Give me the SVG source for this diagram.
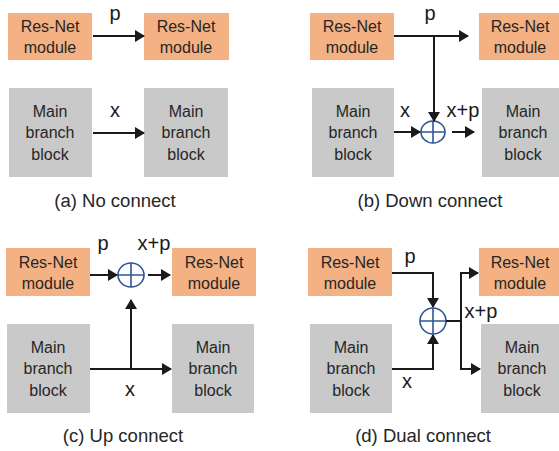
<svg xmlns="http://www.w3.org/2000/svg" width="559" height="451" viewBox="0 0 559 451">
  <style>
    .res { fill: #f4b183; }
    .main { fill: #c9c9c9; }
    .lbl { font-family: "Liberation Sans", Arial, sans-serif; font-size: 16px; fill: #262626; text-anchor: middle; }
    .var { font-family: "Liberation Sans", Arial, sans-serif; font-size: 20px; fill: #1a1a1a; text-anchor: middle; }
    .cap { font-family: "Liberation Sans", Arial, sans-serif; font-size: 18.5px; fill: #262626; text-anchor: middle; }
    .ln { fill: none; stroke: #1a1a1a; stroke-width: 2; }
    .arr { fill: none; stroke: #1a1a1a; stroke-width: 2; marker-end: url(#head); }
    .add { fill: #ffffff; stroke: #2f5597; stroke-width: 1.6; }
    .cross { stroke: #2f5597; stroke-width: 1.6; }
  </style>
  <defs>
    <marker id="head" viewBox="0 0 10 12" refX="9" refY="6" markerWidth="10" markerHeight="12" markerUnits="userSpaceOnUse" orient="auto">
      <path d="M0,0 L10,6 L0,12 Z" fill="#1a1a1a"/>
    </marker>
  </defs>

  <!-- (a) No connect -->
  <g id="a-res1"><rect class="res" x="8" y="13" width="84" height="47"/><text class="lbl" x="50" y="32">Res-Net</text><text class="lbl" x="50" y="53">module</text></g>
  <g id="a-res2"><rect class="res" x="144" y="13" width="85" height="47"/><text class="lbl" x="186" y="32">Res-Net</text><text class="lbl" x="186" y="53">module</text></g>
  <g id="a-main1"><rect class="main" x="9" y="88" width="83" height="89"/><text class="lbl" x="50" y="117">Main</text><text class="lbl" x="50" y="138">branch</text><text class="lbl" x="50" y="160">block</text></g>
  <g id="a-main2"><rect class="main" x="144" y="88" width="84" height="89"/><text class="lbl" x="186" y="117">Main</text><text class="lbl" x="186" y="138">branch</text><text class="lbl" x="186" y="160">block</text></g>
  <g id="a-edges">
    <path class="arr" d="M93,36 H144"/>
    <path class="arr" d="M93,133 H144"/>
    <text class="var" x="115" y="20">p</text>
    <text class="var" x="115" y="117">x</text>
  </g>
  <text class="cap" x="115" y="207">(a) No connect</text>

  <!-- (b) Down connect -->
  <g id="b-res1"><rect class="res" x="310" y="13" width="84" height="47"/><text class="lbl" x="352" y="32">Res-Net</text><text class="lbl" x="352" y="53">module</text></g>
  <g id="b-res2"><rect class="res" x="479" y="13" width="80" height="47"/><text class="lbl" x="520" y="32">Res-Net</text><text class="lbl" x="520" y="53">module</text></g>
  <g id="b-main1"><rect class="main" x="312" y="88" width="82" height="89"/><text class="lbl" x="353" y="117">Main</text><text class="lbl" x="353" y="138">branch</text><text class="lbl" x="353" y="160">block</text></g>
  <g id="b-main2"><rect class="main" x="482" y="88" width="77" height="89"/><text class="lbl" x="523" y="117">Main</text><text class="lbl" x="523" y="138">branch</text><text class="lbl" x="523" y="160">block</text></g>
  <g id="b-add"><ellipse class="add" cx="433" cy="132" rx="12" ry="11"/><path class="cross" d="M421,132 H445 M433,121 V143"/></g>
  <g id="b-edges">
    <path class="arr" d="M394,36 H468"/>
    <path class="arr" d="M434,36 V121"/>
    <path class="arr" d="M394,132 H420"/>
    <path class="arr" d="M452,132 H474"/>
    <text class="var" x="430" y="20">p</text>
    <text class="var" x="405" y="117">x</text>
    <text class="var" x="463" y="117">x+p</text>
  </g>
  <text class="cap" x="430" y="207">(b) Down connect</text>

  <!-- (c) Up connect -->
  <g id="c-res1"><rect class="res" x="6" y="248" width="84" height="48"/><text class="lbl" x="48" y="268">Res-Net</text><text class="lbl" x="48" y="289">module</text></g>
  <g id="c-res2"><rect class="res" x="172" y="248" width="84" height="48"/><text class="lbl" x="214" y="268">Res-Net</text><text class="lbl" x="214" y="289">module</text></g>
  <g id="c-main1"><rect class="main" x="7" y="324" width="83" height="89"/><text class="lbl" x="48" y="353">Main</text><text class="lbl" x="48" y="374">branch</text><text class="lbl" x="48" y="396">block</text></g>
  <g id="c-main2"><rect class="main" x="172" y="324" width="82" height="89"/><text class="lbl" x="213" y="353">Main</text><text class="lbl" x="213" y="374">branch</text><text class="lbl" x="213" y="396">block</text></g>
  <g id="c-add"><ellipse class="add" cx="131" cy="275" rx="13" ry="12"/><path class="cross" d="M118,275 H144 M131,263 V287"/></g>
  <g id="c-edges">
    <path class="arr" d="M90,275 H117"/>
    <path class="arr" d="M148,275 H170"/>
    <path class="ln" d="M90,369 H131"/>
    <path class="arr" d="M131,369 V300"/>
    <path class="arr" d="M131,369 H171"/>
    <text class="var" x="103" y="250">p</text>
    <text class="var" x="154" y="250">x+p</text>
    <text class="var" x="130" y="396">x</text>
  </g>
  <text class="cap" x="123" y="442">(c) Up connect</text>

  <!-- (d) Dual connect -->
  <g id="d-res1"><rect class="res" x="308" y="248" width="84" height="48"/><text class="lbl" x="350" y="268">Res-Net</text><text class="lbl" x="350" y="289">module</text></g>
  <g id="d-res2"><rect class="res" x="479" y="248" width="80" height="48"/><text class="lbl" x="520" y="268">Res-Net</text><text class="lbl" x="520" y="289">module</text></g>
  <g id="d-main1"><rect class="main" x="310" y="324" width="82" height="89"/><text class="lbl" x="351" y="353">Main</text><text class="lbl" x="351" y="374">branch</text><text class="lbl" x="351" y="396">block</text></g>
  <g id="d-main2"><rect class="main" x="481" y="324" width="78" height="89"/><text class="lbl" x="522" y="353">Main</text><text class="lbl" x="522" y="374">branch</text><text class="lbl" x="522" y="396">block</text></g>
  <g id="d-add"><ellipse class="add" cx="433" cy="321" rx="13" ry="13"/><path class="cross" d="M420,321 H446 M433,308 V334"/></g>
  <g id="d-edges">
    <path class="arr" d="M392,273 H433 V307"/>
    <path class="arr" d="M392,369 H433 V335"/>
    <path class="ln" d="M446,321 H461"/>
    <path class="arr" d="M461,321 V273 H478"/>
    <path class="arr" d="M461,321 V369 H480"/>
    <text class="var" x="410" y="263">p</text>
    <text class="var" x="481" y="318">x+p</text>
    <text class="var" x="407" y="388">x</text>
  </g>
  <text class="cap" x="423" y="442">(d) Dual connect</text>
</svg>
